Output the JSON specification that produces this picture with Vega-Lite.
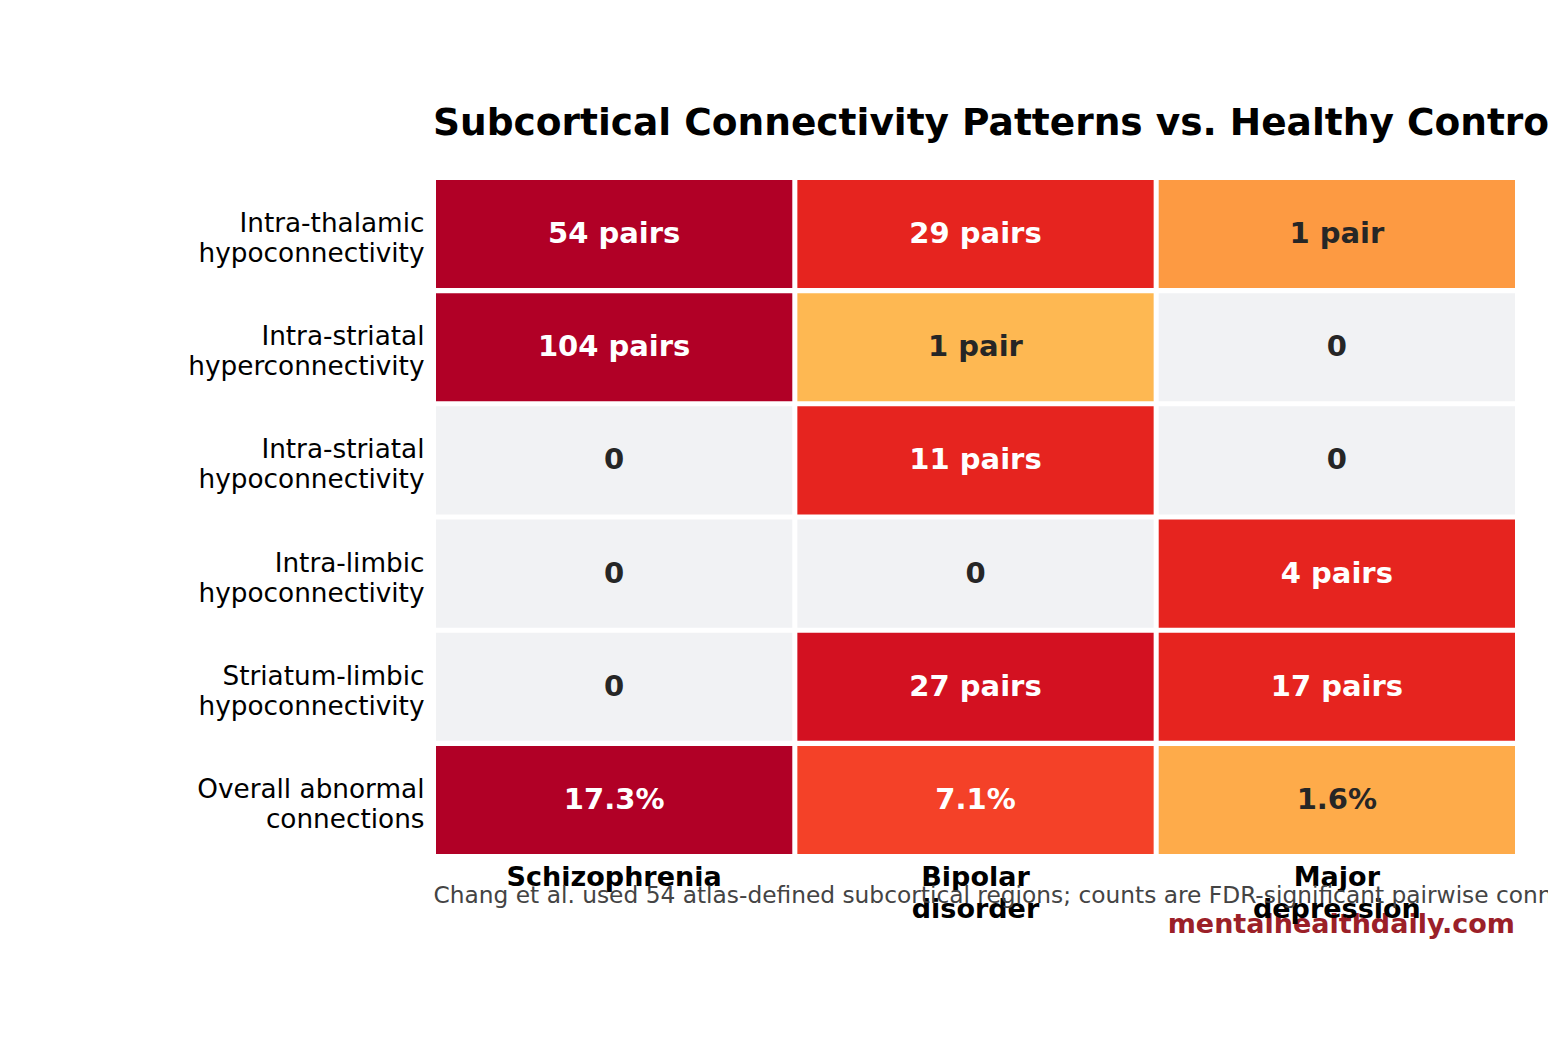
{
  "$schema": "https://vega.github.io/schema/vega-lite/v6.json",
  "width": 1079,
  "height": 674,
  "autosize": "none",
  "padding": {"left": 436, "top": 180, "right": 33, "bottom": 190},
  "background": "white",
  "config": {
    "view": {"stroke": null},
    "font": "DejaVu Sans"
  },
  "title": {
    "text": "Subcortical Connectivity Patterns vs. Healthy Controls",
    "anchor": "start",
    "frame": "group",
    "fontSize": 37.5,
    "fontWeight": "bold",
    "font": "DejaVu Sans",
    "color": "black",
    "baseline": "alphabetic",
    "offset": 8,
    "dx": -3
  },
  "data": {
    "values": [
      {"pattern": "Intra-thalamic hypoconnectivity", "disorder": "Schizophrenia", "label": "54 pairs", "level": 7},
      {"pattern": "Intra-thalamic hypoconnectivity", "disorder": "Bipolar disorder", "label": "29 pairs", "level": 5},
      {"pattern": "Intra-thalamic hypoconnectivity", "disorder": "Major depression", "label": "1 pair", "level": 3},
      {"pattern": "Intra-striatal hyperconnectivity", "disorder": "Schizophrenia", "label": "104 pairs", "level": 7},
      {"pattern": "Intra-striatal hyperconnectivity", "disorder": "Bipolar disorder", "label": "1 pair", "level": 1},
      {"pattern": "Intra-striatal hyperconnectivity", "disorder": "Major depression", "label": "0", "level": 0},
      {"pattern": "Intra-striatal hypoconnectivity", "disorder": "Schizophrenia", "label": "0", "level": 0},
      {"pattern": "Intra-striatal hypoconnectivity", "disorder": "Bipolar disorder", "label": "11 pairs", "level": 5},
      {"pattern": "Intra-striatal hypoconnectivity", "disorder": "Major depression", "label": "0", "level": 0},
      {"pattern": "Intra-limbic hypoconnectivity", "disorder": "Schizophrenia", "label": "0", "level": 0},
      {"pattern": "Intra-limbic hypoconnectivity", "disorder": "Bipolar disorder", "label": "0", "level": 0},
      {"pattern": "Intra-limbic hypoconnectivity", "disorder": "Major depression", "label": "4 pairs", "level": 5},
      {"pattern": "Striatum-limbic hypoconnectivity", "disorder": "Schizophrenia", "label": "0", "level": 0},
      {"pattern": "Striatum-limbic hypoconnectivity", "disorder": "Bipolar disorder", "label": "27 pairs", "level": 6},
      {"pattern": "Striatum-limbic hypoconnectivity", "disorder": "Major depression", "label": "17 pairs", "level": 5},
      {"pattern": "Overall abnormal connections", "disorder": "Schizophrenia", "label": "17.3%", "level": 7},
      {"pattern": "Overall abnormal connections", "disorder": "Bipolar disorder", "label": "7.1%", "level": 4},
      {"pattern": "Overall abnormal connections", "disorder": "Major depression", "label": "1.6%", "level": 2}
    ]
  },
  "encoding": {
    "x": {
      "field": "disorder",
      "type": "nominal",
      "sort": ["Schizophrenia", "Bipolar disorder", "Major depression"],
      "scale": {"paddingInner": 0.014, "paddingOuter": 0},
      "axis": {
        "orient": "bottom",
        "labelAngle": 0,
        "labelFontSize": 27,
        "labelFontWeight": "bold",
        "labelColor": "black",
        "labelFont": "DejaVu Sans",
        "labelLineHeight": 32,
        "labelPadding": 10,
        "labelLimit": 0,
        "labelExpr": "split(datum.value, ' ')",
        "ticks": false,
        "domain": false,
        "title": "Chang et al. used 54 atlas-defined subcortical regions; counts are FDR-significant pairwise connections",
        "titleFontSize": 23.3,
        "titleFontWeight": "normal",
        "titleColor": "#444444",
        "titleFont": "DejaVu Sans",
        "titleAnchor": "start",
        "titleAlign": "left",
        "titleBaseline": "alphabetic",
        "titleLimit": 0,
        "titleX": -3,
        "titleY": 48
      }
    },
    "y": {
      "field": "pattern",
      "type": "nominal",
      "sort": ["Intra-thalamic hypoconnectivity", "Intra-striatal hyperconnectivity", "Intra-striatal hypoconnectivity", "Intra-limbic hypoconnectivity", "Striatum-limbic hypoconnectivity", "Overall abnormal connections"],
      "scale": {"paddingInner": 0.045, "paddingOuter": 0},
      "axis": {
        "labelFontSize": 26.3,
        "labelColor": "black",
        "labelFont": "DejaVu Sans",
        "labelLineHeight": 30,
        "labelPadding": 12,
        "labelOffset": -10,
        "labelLimit": 0,
        "labelExpr": "datum.value == 'Overall abnormal connections' ? ['Overall abnormal', 'connections'] : split(datum.value, ' ')",
        "ticks": false,
        "domain": false,
        "title": null
      }
    }
  },
  "layer": [
    {
      "mark": {"type": "rect"},
      "encoding": {
        "color": {
          "field": "level",
          "type": "ordinal",
          "scale": {
            "domain": [0, 1, 2, 3, 4, 5, 6, 7],
            "range": ["#f1f2f4", "#feb852", "#feab4a", "#fd9a42", "#f44128", "#e6241f", "#d31121", "#b10026"]
          },
          "legend": null
        }
      }
    },
    {
      "mark": {"type": "text", "fontSize": 29, "fontWeight": "bold", "font": "DejaVu Sans", "baseline": "middle"},
      "encoding": {
        "text": {"field": "label"},
        "color": {
          "condition": {"test": "datum.level >= 4", "value": "white"},
          "value": "#262626"
        }
      }
    },
    {
      "data": {"values": [{"source": "mentalhealthdaily.com"}]},
      "mark": {"type": "text", "fontSize": 27, "fontWeight": "bold", "font": "DejaVu Sans", "align": "right", "baseline": "alphabetic", "dy": 79, "color": "#9b2028"},
      "encoding": {
        "x": {"value": "width"},
        "y": {"value": "height"},
        "text": {"field": "source"}
      }
    }
  ]
}
